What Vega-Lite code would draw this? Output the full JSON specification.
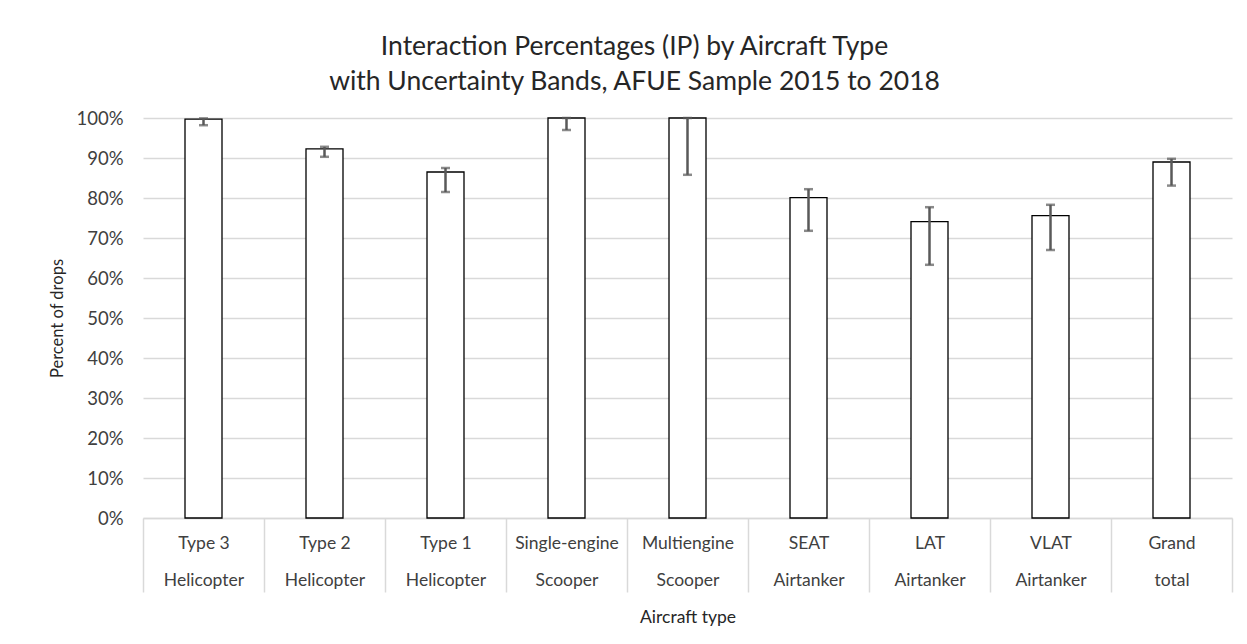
{
  "$schema": "https://vega.github.io/schema/vega-lite/v6.json",
  "width": 1089,
  "height": 400,
  "autosize": {"type": "none"},
  "padding": {"left": 143, "top": 118, "right": 15, "bottom": 126},
  "background": "white",
  "title": {
    "text": ["Interaction Percentages (IP) by Aircraft Type", "with Uncertainty Bands, AFUE Sample 2015 to 2018"],
    "anchor": "middle",
    "dx": -53,
    "fontSize": 26.5,
    "font": "Lato",
    "fontWeight": "normal",
    "color": "#262626",
    "lineHeight": 35,
    "offset": 14
  },
  "config": {
    "view": {"stroke": null},
    "axisY": {
      "values": [0, 0.1, 0.2, 0.3, 0.4, 0.5, 0.6, 0.7, 0.8, 0.9, 1.0],
      "labelOverlap": false,
      "format": ".0%",
      "domain": false,
      "ticks": false,
      "gridColor": "#d9d9d9",
      "gridWidth": 1.3,
      "labelFont": "Lato",
      "labelFontSize": 18.5,
      "labelColor": "#404040",
      "labelPadding": 20,
      "titleFont": "Lato",
      "titleFontSize": 16.5,
      "titleFontWeight": "normal",
      "titleColor": "#262626",
      "titlePadding": 10
    }
  },
  "data": {
    "values": [
      {"type": "Type 3|Helicopter", "ip": 0.997, "lo": 0.982, "hi": 0.999},
      {"type": "Type 2|Helicopter", "ip": 0.923, "lo": 0.903, "hi": 0.928},
      {"type": "Type 1|Helicopter", "ip": 0.865, "lo": 0.815, "hi": 0.875},
      {"type": "Single-engine|Scooper", "ip": 1.0, "lo": 0.97, "hi": 1.0},
      {"type": "Multiengine|Scooper", "ip": 1.0, "lo": 0.858, "hi": 1.0},
      {"type": "SEAT|Airtanker", "ip": 0.801, "lo": 0.718, "hi": 0.822},
      {"type": "LAT|Airtanker", "ip": 0.741, "lo": 0.633, "hi": 0.777},
      {"type": "VLAT|Airtanker", "ip": 0.756, "lo": 0.67, "hi": 0.783},
      {"type": "Grand|total", "ip": 0.89, "lo": 0.831, "hi": 0.898}
    ]
  },
  "encoding": {
    "x": {
      "field": "type",
      "type": "nominal",
      "sort": null,
      "scale": {"paddingInner": 0, "paddingOuter": 0},
      "axis": {
        "labelExpr": "datum.value ? split(datum.value, '|') : ''",
        "labelAngle": 0,
        "labelLineHeight": 37,
        "labelFontSize": 17.5,
        "labelFont": "Lato",
        "labelColor": "#404040",
        "labelBaseline": "top",
        "labelPadding": -58,
        "labelOverlap": false,
        "tickBand": "extent",
        "tickSize": 74,
        "tickColor": "#d9d9d9",
        "tickWidth": 1.5,
        "domainColor": "#d9d9d9",
        "domainWidth": 1.5,
        "grid": false,
        "title": "Aircraft type",
        "titleFont": "Lato",
        "titleFontSize": 17.5,
        "titleFontWeight": "normal",
        "titleColor": "#262626",
        "titlePadding": 16
      }
    }
  },
  "layer": [
    {
      "mark": {"type": "bar", "fill": "white", "stroke": "black", "strokeWidth": 1.3, "width": 37},
      "encoding": {
        "y": {
          "field": "ip",
          "type": "quantitative",
          "scale": {"domain": [0, 1], "nice": false},
          "axis": {"title": "Percent of drops", "values": [0, 0.1, 0.2, 0.3, 0.4, 0.5, 0.6, 0.7, 0.8, 0.9, 1.0]}
        }
      }
    },
    {
      "mark": {"type": "rule", "color": "#595959", "strokeWidth": 2.5},
      "encoding": {
        "y": {"field": "lo", "type": "quantitative", "axis": {"title": "Percent of drops", "values": [0, 0.1, 0.2, 0.3, 0.4, 0.5, 0.6, 0.7, 0.8, 0.9, 1.0]}},
        "y2": {"field": "hi"}
      }
    },
    {
      "mark": {"type": "tick", "color": "#595959", "thickness": 2.5, "size": 9},
      "encoding": {"y": {"field": "lo", "type": "quantitative", "axis": {"title": "Percent of drops", "values": [0, 0.1, 0.2, 0.3, 0.4, 0.5, 0.6, 0.7, 0.8, 0.9, 1.0]}}}
    },
    {
      "mark": {"type": "tick", "color": "#595959", "thickness": 2.5, "size": 9},
      "encoding": {"y": {"field": "hi", "type": "quantitative", "axis": {"title": "Percent of drops", "values": [0, 0.1, 0.2, 0.3, 0.4, 0.5, 0.6, 0.7, 0.8, 0.9, 1.0]}}}
    }
  ]
}
